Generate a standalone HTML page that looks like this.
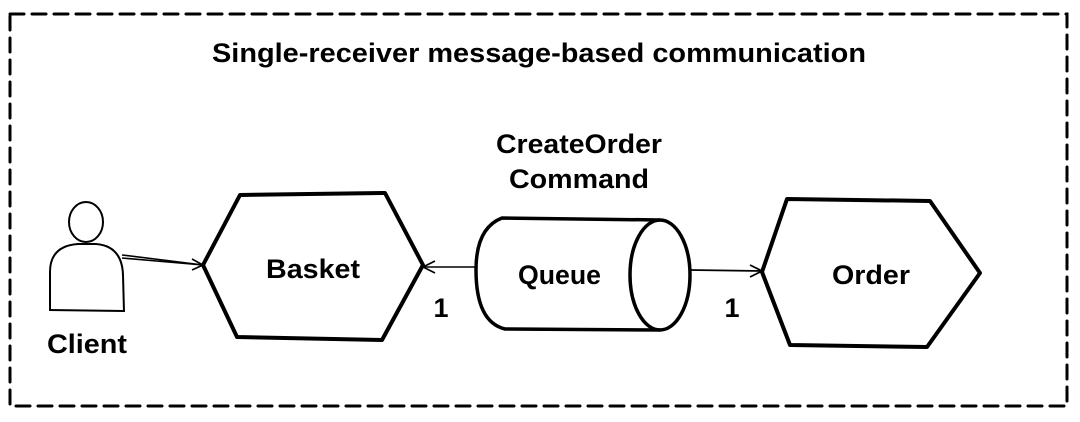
<!DOCTYPE html>
<html><head><meta charset="utf-8"><style>
html,body{margin:0;padding:0;background:#fff;}
svg{display:block;}
text{font-family:"Liberation Sans",Arial,sans-serif;font-weight:bold;fill:#000;}
</style></head><body>
<svg width="1080" height="422" viewBox="0 0 1080 422" xmlns="http://www.w3.org/2000/svg">
<rect x="10" y="14" width="1057" height="392" fill="none" stroke="#000" stroke-width="3" stroke-dasharray="14 8" stroke-linecap="round"/>
<text x="212" y="62" font-size="27" textLength="654" lengthAdjust="spacingAndGlyphs">Single-receiver message-based communication</text>
<text x="496" y="153" font-size="27" textLength="166" lengthAdjust="spacingAndGlyphs">CreateOrder</text>
<text x="509" y="188" font-size="27" textLength="140" lengthAdjust="spacingAndGlyphs">Command</text>
<!-- Client -->
<g fill="none" stroke="#000" stroke-width="2">
<ellipse cx="86" cy="222" rx="17" ry="20"/>
<path d="M50 310 L50 272 Q50 246 78 244 L96 244 Q122 246 123 275 L124 312"/>
<path d="M49 310 L124 311"/>
</g>
<text x="47" y="353" font-size="27" textLength="80" lengthAdjust="spacingAndGlyphs">Client</text>
<!-- Client -> Basket -->
<g fill="none" stroke="#000" stroke-width="1.6">
<path d="M122 255 L203 265"/><path d="M122 258 L203 265"/>
<path d="M192 259 L203 265 L192 270"/>
</g>
<!-- Basket -->
<path d="M240 195 L385 193 L423 265 L382 340 L237 337 L203 265 Z" fill="none" stroke="#000" stroke-width="4" stroke-linejoin="round"/>
<text x="266" y="278" font-size="27" textLength="94" lengthAdjust="spacingAndGlyphs">Basket</text>
<!-- Queue -> Basket -->
<g fill="none" stroke="#000" stroke-width="1.6">
<path d="M476 267 L423 267"/><path d="M435 261 L423 267 L435 273"/>
</g>
<text x="441" y="317" font-size="27" text-anchor="middle">1</text>
<!-- Queue -->
<g fill="none" stroke="#000" stroke-width="3.5">
<path d="M660 220 L502 218 Q476 228 476 270 Q476 322 505 329 L660 330"/>
<ellipse cx="660" cy="275" rx="30" ry="55"/>
</g>
<text x="518" y="284" font-size="27" textLength="83" lengthAdjust="spacingAndGlyphs">Queue</text>
<!-- Queue -> Order -->
<g fill="none" stroke="#000" stroke-width="1.8">
<path d="M690 270 L762 271"/><path d="M750 265 L762 271 L750 277"/>
</g>
<text x="732" y="317" font-size="27" text-anchor="middle">1</text>
<!-- Order -->
<path d="M787 199 L930 201 L980 273 L927 347 L790 345 L762 272 Z" fill="none" stroke="#000" stroke-width="4" stroke-linejoin="round"/>
<text x="832" y="284" font-size="27" textLength="78" lengthAdjust="spacingAndGlyphs">Order</text>
</svg>
</body></html>
